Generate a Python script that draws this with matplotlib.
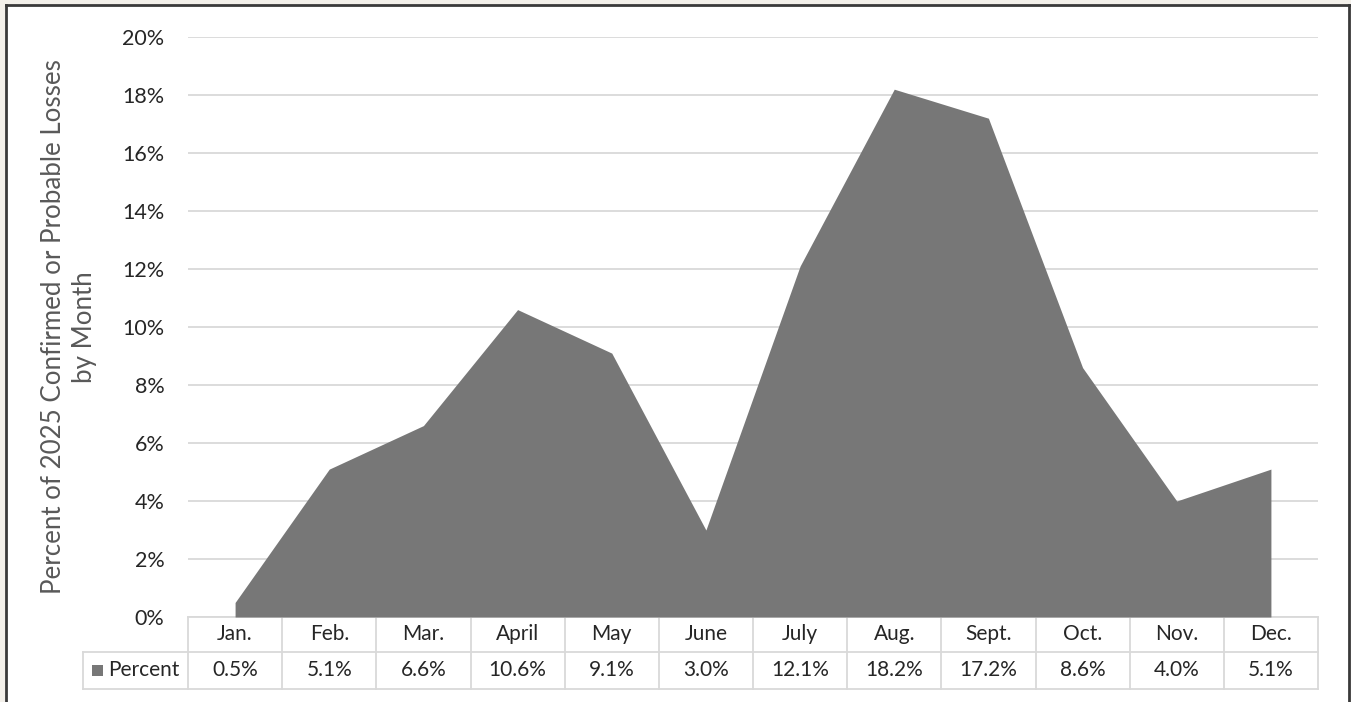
import matplotlib
matplotlib.use("Agg")
import matplotlib.pyplot as plt
from matplotlib.patches import Rectangle
from matplotlib.lines import Line2D

months = ["Jan.", "Feb.", "Mar.", "April", "May", "June", "July", "Aug.", "Sept.", "Oct.", "Nov.", "Dec."]
percent = [0.5, 5.1, 6.6, 10.6, 9.1, 3.0, 12.1, 18.2, 17.2, 8.6, 4.0, 5.1]
yticks = [0, 2, 4, 6, 8, 10, 12, 14, 16, 18, 20]
series_name = "Percent"
ylabel = "Percent of 2025 Confirmed or Probable Losses\nby Month"

W, H = 1351, 702
plt.rcParams['font.family'] = ['Lato', 'DejaVu Sans']
fig = plt.figure(figsize=(W / 100, H / 100), dpi=100)
fig.patch.set_facecolor("#f3f0ea")

def fx(px):
    return px / W

def fy(py):
    return 1 - py / H

# white panel with dark frame
fig.patches.append(Rectangle((fx(6), 0), fx(1343), fy(5), transform=fig.transFigure,
                             facecolor="white", edgecolor="none", zorder=-10))
for xs, ys in [([6, 6], [5, 702]), ([6, 1349], [5, 5]), ([1349, 1349], [5, 702])]:
    fig.lines.append(Line2D([fx(x) for x in xs], [fy(y) for y in ys], transform=fig.transFigure,
                            color="#3a3a3a", lw=2, zorder=-5))

L, R, T, B = 188, 1318, 37, 617
ax = fig.add_axes([fx(L), fy(B), fx(R - L), (B - T) / H])
ax.set_zorder(5)
ax.set_facecolor("none")
x = list(range(len(months)))
ax.fill_between(x, 0, percent, color="#777777", lw=0, zorder=2)
ax.set_xlim(-0.5, len(months) - 0.5)
ax.set_ylim(0, 20)
ax.set_yticks(yticks)
ax.set_yticklabels([f"{v}%" for v in yticks], fontsize=15.5, color="#262626")
ax.tick_params(axis='y', length=0, pad=17)
ax.set_xticks([])
ax.grid(axis='y', color="#d9d9d9", lw=1.3, zorder=1)
ax.set_axisbelow(True)
for s in ax.spines.values():
    s.set_visible(False)
ax.set_ylabel(ylabel, fontsize=18.6, color="#595959", labelpad=18, linespacing=1.3)

# data table
n = len(months)
cw = (R - L) / n
row1_top, row1_bot, row2_bot = 617, 652, 689
lab_left = 83
lc = "#d9d9d9"
def hline(x0, x1, y):
    fig.lines.append(Line2D([fx(x0), fx(x1)], [fy(y), fy(y)], transform=fig.transFigure, color=lc, lw=1.3))
def vline(xp, y0, y1):
    fig.lines.append(Line2D([fx(xp), fx(xp)], [fy(y0), fy(y1)], transform=fig.transFigure, color=lc, lw=1.3))

hline(L, R, row1_top)
hline(lab_left, R, row1_bot)
hline(lab_left, R, row2_bot)
vline(lab_left, row1_bot, row2_bot)
for i in range(n + 1):
    vline(L + i * cw, row1_top, row2_bot)
for i, (m, p) in enumerate(zip(months, percent)):
    cx = L + (i + 0.5) * cw
    fig.text(fx(cx), fy((row1_top + row1_bot) / 2), m, ha="center", va="center", fontsize=15, color="#262626")
    fig.text(fx(cx), fy((row1_bot + row2_bot) / 2), f"{p:.1f}%", ha="center", va="center", fontsize=15, color="#262626")
# legend key
fig.patches.append(Rectangle((fx(92), fy(676)), fx(11), 11 / H, transform=fig.transFigure,
                             facecolor="#777777", edgecolor="none"))
fig.text(fx(108), fy((row1_bot + row2_bot) / 2), series_name, ha="left", va="center", fontsize=15, color="#262626")

fig.savefig("out.png", dpi=100, facecolor=fig.get_facecolor())
